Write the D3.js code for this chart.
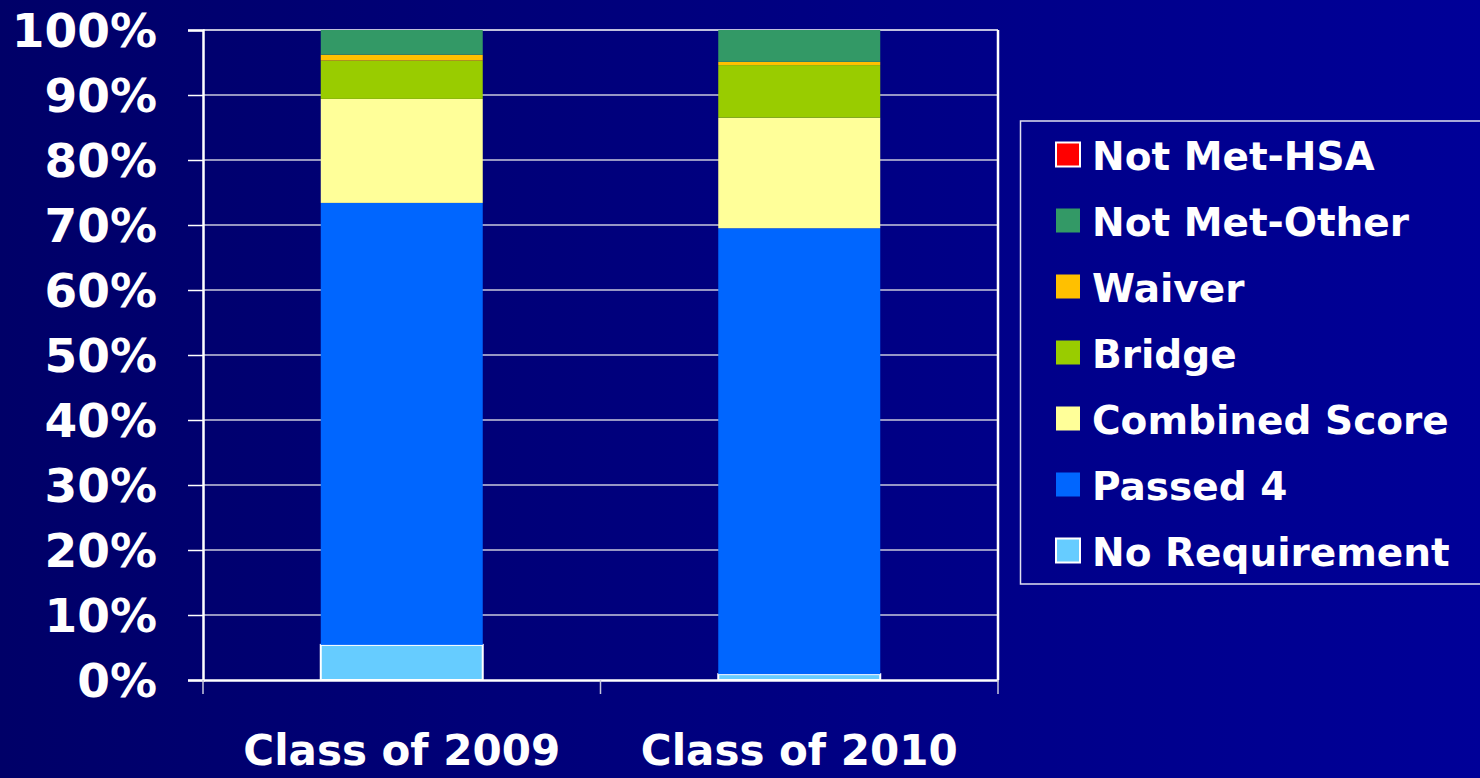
<!DOCTYPE html>
<html><head><meta charset="utf-8">
<script src="https://cdn.jsdelivr.net/npm/d3@7"></script>
<style>html,body{margin:0;padding:0;overflow:hidden;background:#000066;}</style>
</head><body>
<svg id="chart" width="1480" height="778"></svg>
<script>
const categories = ["Class of 2009", "Class of 2010"];
const seriesNames = ["No Requirement", "Passed 4", "Combined Score", "Bridge", "Waiver", "Not Met-Other", "Not Met-HSA"];
const noRequirement = [5.4, 0.9];
const passed4 = [68.0, 68.6];
const combinedScore = [16.0, 17.0];
const bridge = [5.9, 8.1];
const waiver = [0.9, 0.5];
const notMetOther = [3.8, 4.9];
const notMetHSA = [0, 0];
const seriesValues = [noRequirement, passed4, combinedScore, bridge, waiver, notMetOther, notMetHSA];
const colors = ["#66CCFF", "#0066FF", "#FFFF99", "#99CC00", "#FFC000", "#339966", "#FF0000"];
const outlined = ["No Requirement", "Not Met-HSA"];
const yTicks = [0, 10, 20, 30, 40, 50, 60, 70, 80, 90, 100];

(function () {
const svg = d3.select("#chart");
const defs = svg.append("defs");
const grad = defs.append("linearGradient").attr("id", "bg").attr("x1", "0").attr("x2", "1").attr("y1", "0").attr("y2", "0");
grad.append("stop").attr("offset", "0").attr("stop-color", "#000068");
grad.append("stop").attr("offset", "1").attr("stop-color", "#000098");
svg.append("rect").attr("width", 1480).attr("height", 778).attr("fill", "url(#bg)");

const pLeft = 203, pRight = 998, pTop = 30, pBottom = 680;
const x = d3.scaleBand().domain(categories).range([pLeft, pRight]).padding(0);
const y = d3.scaleLinear().domain([0, 100]).range([pBottom, pTop]);

const rows = categories.map((c, i) => {
  const r = {cat: c};
  seriesNames.forEach((s, j) => r[s] = seriesValues[j][i]);
  return r;
});
const stacked = d3.stack().keys(seriesNames)(rows);
const font = "'DejaVu Sans', Verdana, sans-serif";

// gridlines
svg.append("g").selectAll("line").data(yTicks.filter(t => t > 0)).join("line")
  .attr("x1", pLeft).attr("x2", pRight)
  .attr("y1", d => y(d)).attr("y2", d => y(d))
  .attr("stroke", d => d === 100 ? "#ffffff" : "#c8c8dc").attr("stroke-width", 1.5);

// bars
const barW = x.bandwidth() * 0.4075;
stacked.forEach((layer, j) => {
  svg.append("g").selectAll("rect").data(layer).join("rect")
    .attr("x", d => x(d.data.cat) + (x.bandwidth() - barW) / 2)
    .attr("width", barW)
    .attr("y", d => y(d[1]))
    .attr("height", d => Math.max(0, y(d[0]) - y(d[1])))
    .attr("fill", colors[j])
    .attr("stroke", outlined.includes(layer.key) ? "#ffffff" : "none")
    .attr("stroke-width", 2);
});

// axes
const yAxis = d3.axisLeft(y).tickValues(yTicks).tickSize(15).tickFormat(d => d + "%");
const gy = svg.append("g").attr("transform", `translate(${pLeft},0)`).call(yAxis);
gy.select(".domain").attr("stroke", "#ffffff").attr("stroke-width", 2.5);
gy.selectAll(".tick line").attr("stroke", "#ffffff").attr("stroke-width", 1.5);
gy.selectAll(".tick text").attr("fill", "#ffffff").attr("font-family", font)
  .attr("font-weight", "bold").attr("font-size", 47).attr("x", -46).attr("dy", "0.36em");

const xAxis = d3.axisBottom(x).tickValues([]).tickSize(0);
const gx = svg.append("g").attr("transform", `translate(0,${pBottom})`).call(xAxis);
gx.select(".domain").attr("stroke", "#ffffff").attr("stroke-width", 2.5);
const bounds = [pLeft, ...categories.map(c => x(c) + x.bandwidth())];
svg.append("g").selectAll("line").data(bounds).join("line")
  .attr("x1", d => d).attr("x2", d => d).attr("y1", pBottom).attr("y2", pBottom + 14)
  .attr("stroke", "#c8c8dc").attr("stroke-width", 1.5);
svg.append("line").attr("x1", pRight).attr("x2", pRight).attr("y1", pTop).attr("y2", pBottom)
  .attr("stroke", "#ffffff").attr("stroke-width", 2.5);

svg.append("g").selectAll("text").data(categories).join("text")
  .attr("x", d => x(d) + x.bandwidth() / 2).attr("y", 765)
  .attr("text-anchor", "middle").attr("fill", "#ffffff").attr("font-family", font)
  .attr("font-weight", "bold").attr("font-size", 42).text(d => d);

// legend
const lg = svg.append("g");
lg.append("rect").attr("x", 1020.5).attr("y", 121).attr("width", 480).attr("height", 463)
  .attr("fill", "none").attr("stroke", "#e0e0f0").attr("stroke-width", 1.5);
const legendItems = seriesNames.map((s, j) => ({name: s, color: colors[j]})).reverse();
const li = lg.selectAll("g").data(legendItems).join("g")
  .attr("transform", (d, i) => `translate(0,${154.5 + i * 66})`);
li.append("rect").attr("x", 1056).attr("y", -12).attr("width", 24).attr("height", 24)
  .attr("fill", d => d.color)
  .attr("stroke", d => outlined.includes(d.name) ? "#ffffff" : "none").attr("stroke-width", 2);
li.append("text").attr("x", 1092).attr("y", 15).attr("fill", "#ffffff").attr("font-family", font)
  .attr("font-weight", "bold").attr("font-size", 39).text(d => d.name);
})();
</script>
</body></html>
